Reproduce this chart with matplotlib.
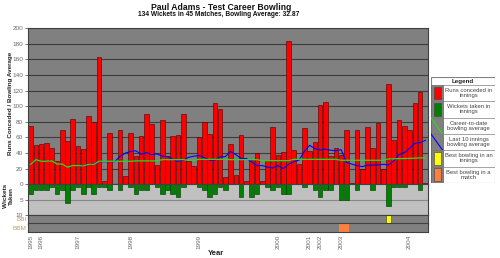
import numpy as np
import matplotlib
matplotlib.use("Agg")
import matplotlib.pyplot as plt
from matplotlib.patches import Rectangle

plt.rcParams['font.family'] = ['Liberation Sans', 'DejaVu Sans']

# runs conceded per innings (None = did not bowl)
runs = [75, 51, 52, 53, 47, 30, 69, 55, 84, 49, 45, 88, 80, 163, 4, 66, None, 69, 10, 66,
        36, 62, 90, 77, 25, 83, 36, 62, 63, 90, 30, 24, 61, 80, 64, 104, 96, 9,
        52, 12, 63, 4, 31, 40, 4, 31, 74, 38, 42, 184, 44, 26, 72, 43, 54, 102, 105,
        36, 47, 37, 69, 2, 70, 19, 74, 46, 79, 20, 128, 57, 82, 75, 70, 104, 118, 2]
wickets = [3, 2, 2, 2, 1, 3, 2, 6, 2, 1, 3, 1, 3, 1, 1, 2, 0, 2, 0, 1,
           3, 2, 2, 0, 1, 3, 2, 3, 4, 1, 0, 0, 1, 2, 4, 3, 1, 2,
           0, 0, 4, 0, 4, 3, 0, 1, 2, 1, 3, 3, 0, 0, 1, 0, 2, 4, 2,
           2, 0, 5, 5, 0, 2, 0, 0, 2, 0, 0, 7, 1, 1, 1, 0, 0, 2, 0]
career_avg = [25.6, 31.6, 29.5, 29.5, 30, 26, 26, 22, 24, 24, 23.5, 25.6, 25.6, 29.5, 29.5, 29.5,
              29.5, 29.5, 29.5, 29.5, 30, 30, 30, 30, 30, 31.6, 31.6, 31.6, 31.6, 31.6, 30.8, 30.8,
              32, 32, 32, 32, 32, 32, 31.6, 31.6, 31.6, 31.6, 31.6, 31.6, 30.3, 30.3, 30.3, 30.3,
              30.3, 30.3, 32, 32, 32, 32, 32, 32, 32, 32, 32, 30.8, 30.8, 30.8, 30.8, 30.8, 30.8,
              30.8, 30.8, 30.8, 32.5, 32.7, 33, 33, 33.2, 33.5, 33.8, 34]
last10_avg = [None] * 9 + [24, 23.5, 25.5, 26.5, 29, 29, 29, 29, 36, 40,
              42, 43, 38.5, 40.6, 38, 39, 36, 35.5, 32, 29.5, 31, 34.6, 36, 36.8, 34, 31, 31, 35, 35.5,
              42, 38, 33, 33, 28.6, 24, 24, 22, 21, 24, 20, 25.6, 29, 31, 42, 50, 45.7, 44, 45,
              43.6, 43, 44.4, 28, 26, 24, 22.6, 24.4, 24.8, 24.8, 25.6, 24.8, 30, 38, 40.6, 46,
              52.6, 53.4, 56.4]
bbi_slot = [68]
bbm_slots = [59, 60]
year_labels = ['1995', '1996', '1997', '1998', '1999', '2000', '2001', '2002', '2003', '2004']
year_slots = [0, 2, 9, 19, 32, 47, 53, 55, 59, 72]

x = np.arange(len(runs))
runs_arr = np.array([np.nan if r is None else r for r in runs], dtype=float)
last10 = np.array([np.nan if v is None else v for v in last10_avg], dtype=float)

fig = plt.figure(figsize=(5, 2.58), dpi=100)
L, W = 0.056, 0.8
ax1 = fig.add_axes([L, 0.2857, W, 0.6047])
ax2 = fig.add_axes([L, 0.1667, W, 0.119], sharex=ax1)
ax3 = fig.add_axes([L, 0.1337, W, 0.033], sharex=ax1)
ax4 = fig.add_axes([L, 0.1008, W, 0.033], sharex=ax1)

tick_col = '#6a6a6a'
for ax, bg in [(ax1, '#808080'), (ax2, '#c0c0c0'), (ax3, '#808080'), (ax4, '#808080')]:
    ax.set_facecolor(bg)
    for s in ax.spines.values():
        s.set_color('#404040')
        s.set_linewidth(0.8)
    ax.tick_params(axis='x', length=0, labelbottom=False)
    ax.tick_params(axis='y', length=2.5, width=0.6, color='#606060', labelsize=4.6, labelcolor=tick_col, pad=1)

# runs
ax1.set_xlim(-0.5, len(runs) - 0.5)
ax1.set_ylim(0, 200)
ax1.set_yticks(range(0, 201, 20))
ax1.grid(axis='y', color='#3c3c3c', linewidth=0.8)
ax1.set_axisbelow(True)
ax1.bar(x, runs_arr, width=0.88, color='#ff0000', edgecolor='#500000', linewidth=0.4, zorder=2)
ax1.plot(x, last10, color='#0000ff', linewidth=0.8, zorder=3)
ax1.plot(x, career_avg, color='#22dd22', linewidth=0.9, zorder=4)

# wickets
ax2.set_ylim(10, 0)
ax2.set_yticks([5, 10])
ax2.grid(axis='y', color='#888888', linewidth=0.8)
ax2.set_axisbelow(True)
ax2.bar(x, wickets, width=0.88, color='#008000', edgecolor='#003000', linewidth=0.4, zorder=2)

# best bowling rows
for ax in (ax3, ax4):
    ax.set_ylim(0, 1)
    ax.set_yticks([])
ax3.bar(bbi_slot, [1], width=0.88, bottom=0, color='#ffff00', edgecolor='#404000', linewidth=0.4)
ax4.bar(bbm_slots, [1] * len(bbm_slots), width=1.0, bottom=0, color='#ff7f3f', edgecolor='#ff7f3f', linewidth=0)
ax3.text(-0.004, 0.45, 'BBI', transform=ax3.transAxes, ha='right', va='center', fontsize=4.6, color='#c09a6b')
ax4.text(-0.004, 0.45, 'BBM', transform=ax4.transAxes, ha='right', va='center', fontsize=4.6, color='#c09a6b')

ax4.set_xticks(year_slots)
ax4.set_xticklabels(year_labels, rotation=90, fontsize=4.6, color=tick_col)
ax4.tick_params(axis='x', labelbottom=True, pad=2)

fig.text(0.432, 0.019, 'Year', ha='center', va='center', fontsize=5.5, fontweight='bold', color='#222222')
fig.text(0.021, 0.60, 'Runs Conceded / Bowling Average', rotation=90, ha='center', va='center',
         fontsize=4.5, fontweight='bold', color='#222222')
fig.text(0.017, 0.24, 'Wickets\nTaken', rotation=90, ha='center', va='center',
         fontsize=4.6, fontweight='bold', color='#222222', linespacing=1.0)

fig.text(0.442, 0.972, 'Paul Adams - Test Career Bowling', ha='center', va='center',
         fontsize=6.2, fontweight='bold', color='#111111')
fig.text(0.437, 0.942, '134 Wickets in 45 Matches, Bowling Average: 32.87', ha='center', va='center',
         fontsize=4.8, fontweight='bold', color='#111111')

# legend box
lg = fig.add_axes([431 / 500, 1 - 183 / 258, 64 / 500, 106 / 258])
lg.set_xlim(0, 64)
lg.set_ylim(106, 0)
lg.axis('off')
lg.add_patch(Rectangle((0, 0), 64, 106, facecolor='white', edgecolor='#808080', linewidth=0.8))
rows = [0, 8, 24, 40.5, 57, 73, 89.5, 106]
lg.text(32, 4, 'Legend', ha='center', va='center', fontsize=4.5, fontweight='bold', color='#222222')
texts = ['Runs conceded in\ninnings', 'Wickets taken in\ninnings', 'Career-to-date\nbowling average',
         'Last 10 innings\nbowling average', 'Best bowling in an\ninnings', 'Best bowling in a\nmatch']
swatches = ['#ff0000', '#008000', None, None, '#ffff00', '#ff7f3f']
lines = [None, None, '#22dd22', '#0000ff', None, None]
for i in range(6):
    top, bot = rows[i + 1], rows[i + 2]
    lg.plot([0, 64], [top, top], color='#808080', linewidth=0.5)
    lg.add_patch(Rectangle((0, top), 11.5, bot - top, facecolor='#808080', edgecolor='#606060', linewidth=0.5))
    if swatches[i]:
        lg.add_patch(Rectangle((2.5, top + 1.8), 7.5, bot - top - 3.6, facecolor=swatches[i],
                               edgecolor='#404040', linewidth=0.4))
    if lines[i]:
        lg.plot([0, 11.5], [top, bot], color=lines[i], linewidth=0.8)
    lg.text(37.75, (top + bot) / 2, texts[i], ha='center', va='center', fontsize=4.2,
            color='#444444', linespacing=1.0)

fig.savefig('out.png', dpi=100)
